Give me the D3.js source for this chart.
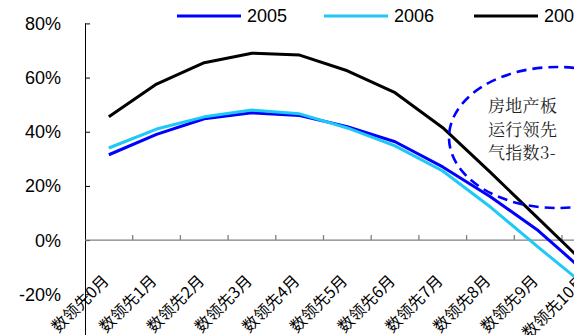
<!DOCTYPE html>
<html><head><meta charset="utf-8">
<script src="https://cdn.jsdelivr.net/npm/d3@7"></script>
<style>html,body{margin:0;padding:0;background:#fff;overflow:hidden}</style>
</head><body>
<svg id="c" width="574" height="335"></svg>
<script>
const categories = ["数领先0月","数领先1月","数领先2月","数领先3月","数领先4月","数领先5月","数领先6月","数领先7月","数领先8月","数领先9月","数领先10月"];
const seriesNames = ["2005","2006","2007"];
const values2005 = [31.5, 39, 44.8, 47, 46, 41.9, 36.3, 27, 16, 3.5, -12];
const values2006 = [34, 41, 45.5, 48, 46.6, 41.4, 34.8, 25.5, 12.2, -2.6, -17];
const values2007 = [45.5, 57.6, 65.5, 69, 68.3, 62.5, 54.4, 41.5, 25, 8, -9];
const yTicks = [-20, 0, 20, 40, 60, 80];
const colors = ["#0000ff", "#1ec8f8", "#000000"];
const noteLines = ["房地产板", "运行领先", "气指数3-"];

const svg = d3.select("#c");
const x = d3.scaleBand().domain(categories).range([85, 85 + 47.7 * categories.length]);
const y = d3.scaleLinear().domain([-40, 80]).range([348.4, 23.4]);

// y axis
const ya = svg.append("g").attr("transform", "translate(85,0)")
  .call(d3.axisRight(y).tickValues(yTicks).tickSize(5).tickFormat(""));
ya.select(".domain").remove();
ya.selectAll(".tick line").attr("stroke", "#000");
svg.append("line").attr("x1", 85.5).attr("x2", 85.5).attr("y1", y(80)).attr("y2", 335).attr("stroke", "#000");
svg.append("g").selectAll("text").data(yTicks).join("text")
  .attr("x", 61).attr("y", d => y(d)).attr("dy", "0.36em")
  .attr("text-anchor", "end").attr("font-family", "Liberation Sans, Arial, sans-serif")
  .attr("font-size", 18).attr("fill", "#000").text(d => d + "%");

// x axis at 0
const xa = svg.append("g").attr("transform", `translate(0,${y(0)})`);
xa.append("line").attr("x1", 85).attr("x2", 574).attr("stroke", "#808080").attr("stroke-width", 1.3);
xa.selectAll("line.t").data(categories).join("line").attr("class", "t")
  .attr("x1", d => x(d) + x.bandwidth()).attr("x2", d => x(d) + x.bandwidth())
  .attr("y1", 0).attr("y2", -5).attr("stroke", "#808080").attr("stroke-width", 1.3);
svg.append("g").selectAll("text").data(categories).join("text")
  .attr("transform", d => `translate(${x(d) + x.bandwidth() / 2 + 1},282) rotate(-45)`)
  .attr("text-anchor", "end").attr("font-family", "Noto Sans CJK SC, sans-serif")
  .attr("font-size", 16).attr("fill", "#000").text(d => d);

// lines
const line = d3.line().x((d, i) => x(categories[i]) + x.bandwidth() / 2).y(d => y(d));
[values2005, values2006, values2007].forEach((v, k) => {
  svg.append("path").attr("d", line(v)).attr("fill", "none")
    .attr("stroke", colors[k]).attr("stroke-width", 3).attr("stroke-linejoin", "round");
});

// annotation ellipse
svg.append("ellipse").attr("cx", 557).attr("cy", 137.5).attr("rx", 108).attr("ry", 70.5)
  .attr("fill", "none").attr("stroke", "#0000ff").attr("stroke-width", 2.6)
  .attr("stroke-dasharray", "10,6");
svg.append("g").selectAll("text").data(noteLines).join("text")
  .attr("x", 488).attr("y", (d, i) => 112 + i * 23.5)
  .attr("font-family", "Noto Serif CJK SC, Noto Sans CJK SC, serif")
  .attr("font-size", 17).attr("letter-spacing", 0.3).attr("fill", "#222").text(d => d);

// legend
const legX = [177, 324, 474];
seriesNames.forEach((s, k) => {
  svg.append("line").attr("x1", legX[k]).attr("x2", legX[k] + 64).attr("y1", 16).attr("y2", 16)
    .attr("stroke", colors[k]).attr("stroke-width", 3);
  svg.append("text").attr("x", legX[k] + 70).attr("y", 16).attr("dy", "0.36em")
    .attr("font-family", "Liberation Sans, Arial, sans-serif").attr("font-size", 18)
    .attr("fill", "#000").text(s);
});
</script>
</body></html>
